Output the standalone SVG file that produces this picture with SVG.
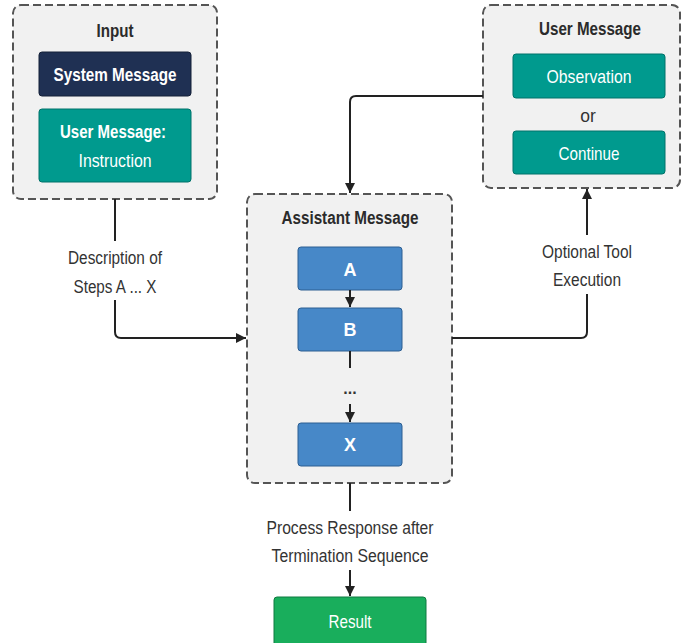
<svg xmlns="http://www.w3.org/2000/svg" width="682" height="643" viewBox="0 0 682 643">
<defs>
<marker id="ah" viewBox="0 0 10 10" refX="10" refY="5" markerWidth="10" markerHeight="10" markerUnits="userSpaceOnUse" orient="auto">
<path d="M0,0 L10,5 L0,10 z" fill="#222"/>
</marker>
<style>
.panel{fill:#f1f1f1;stroke:#555;stroke-width:2;stroke-dasharray:8 4}
.t{font-family:"Liberation Sans",Arial,sans-serif;text-anchor:middle;fill:#333}
.title{font-weight:bold;font-size:18px;fill:#2b2b2b}
.lbl{font-size:17.5px}
.w{fill:#fff;font-size:19px}
.b{font-weight:bold;font-size:18px}
.navy{fill:#1f3053;stroke:#142038;stroke-width:1}
.teal{fill:#009a8e;stroke:#00736a;stroke-width:1}
.blue{fill:#4788c8;stroke:#2d5e92;stroke-width:1}
.green{fill:#19ae5c;stroke:#0f7a40;stroke-width:1}
.c{fill:none;stroke:#222;stroke-width:2}
</style>
</defs>
<g id="input">
<rect class="panel" x="13" y="5" width="204" height="194" rx="8"/>
<text class="t title" x="115" y="37" textLength="37" lengthAdjust="spacingAndGlyphs">Input</text>
<g id="system-message">
<rect class="navy" x="39" y="52" width="152" height="44" rx="3"/>
<text class="t w b" x="115" y="81" textLength="123" lengthAdjust="spacingAndGlyphs">System Message</text>
</g>
<g id="user-instruction">
<rect class="teal" x="39" y="109" width="152" height="73" rx="3"/>
<text class="t w b" x="113" y="138" textLength="106" lengthAdjust="spacingAndGlyphs">User Message:</text>
<text class="t w" x="115" y="167" textLength="73" lengthAdjust="spacingAndGlyphs">Instruction</text>
</g>
</g>
<g id="user-message">
<rect class="panel" x="483" y="5" width="197" height="183" rx="8"/>
<text class="t title" x="590" y="35" textLength="102" lengthAdjust="spacingAndGlyphs">User Message</text>
<g id="observation">
<rect class="teal" x="513" y="54" width="152" height="44" rx="3"/>
<text class="t w" x="589" y="83" textLength="85" lengthAdjust="spacingAndGlyphs">Observation</text>
</g>
<text class="t lbl" x="588" y="122">or</text>
<g id="continue">
<rect class="teal" x="513" y="131" width="152" height="43" rx="3"/>
<text class="t w" x="589" y="160" textLength="61" lengthAdjust="spacingAndGlyphs">Continue</text>
</g>
</g>
<g id="assistant-message">
<rect class="panel" x="247" y="194" width="205" height="289" rx="8"/>
<text class="t title" x="350" y="224" textLength="137" lengthAdjust="spacingAndGlyphs">Assistant Message</text>
<g id="step-a">
<rect class="blue" x="298" y="247" width="104" height="43" rx="3"/>
<text class="t w b" x="350" y="276">A</text>
</g>
<g id="step-b">
<rect class="blue" x="298" y="308" width="104" height="43" rx="3"/>
<text class="t w b" x="350" y="336">B</text>
</g>
<text class="t" x="350" y="394" style="font-size:16px;fill:#333;font-weight:bold">...</text>
<g id="step-x">
<rect class="blue" x="298" y="423" width="104" height="43" rx="3"/>
<text class="t w b" x="350" y="451">X</text>
</g>
</g>
<g id="result">
<rect class="green" x="274" y="597" width="152" height="50" rx="3"/>
<text class="t w" x="350" y="628" textLength="43" lengthAdjust="spacingAndGlyphs">Result</text>
</g>
<g id="connectors">
<path class="c" d="M350,290 V307" marker-end="url(#ah)"/>
<path class="c" d="M350,351 V368"/>
<path class="c" d="M350,404 V422" marker-end="url(#ah)"/>
<path class="c" d="M115,199 V241"/>
<path class="c" d="M115,300 V332 Q115,338 121,338 H246" marker-end="url(#ah)"/>
<text class="t lbl" x="115" y="264" textLength="94" lengthAdjust="spacingAndGlyphs">Description of</text>
<text class="t lbl" x="115" y="293" textLength="83" lengthAdjust="spacingAndGlyphs">Steps A ... X</text>
<path class="c" d="M452,338 H581 Q587,338 587,332 V294"/>
<path class="c" d="M587,235 V189" marker-end="url(#ah)"/>
<text class="t lbl" x="587" y="258" textLength="90" lengthAdjust="spacingAndGlyphs">Optional Tool</text>
<text class="t lbl" x="587" y="286" textLength="68" lengthAdjust="spacingAndGlyphs">Execution</text>
<path class="c" d="M483,96 H356 Q350,96 350,102 V193" marker-end="url(#ah)"/>
<path class="c" d="M350,483 V511"/>
<path class="c" d="M350,570 V596" marker-end="url(#ah)"/>
<text class="t lbl" x="350" y="534" textLength="167" lengthAdjust="spacingAndGlyphs">Process Response after</text>
<text class="t lbl" x="350" y="562" textLength="157" lengthAdjust="spacingAndGlyphs">Termination Sequence</text>
</g>
</svg>
